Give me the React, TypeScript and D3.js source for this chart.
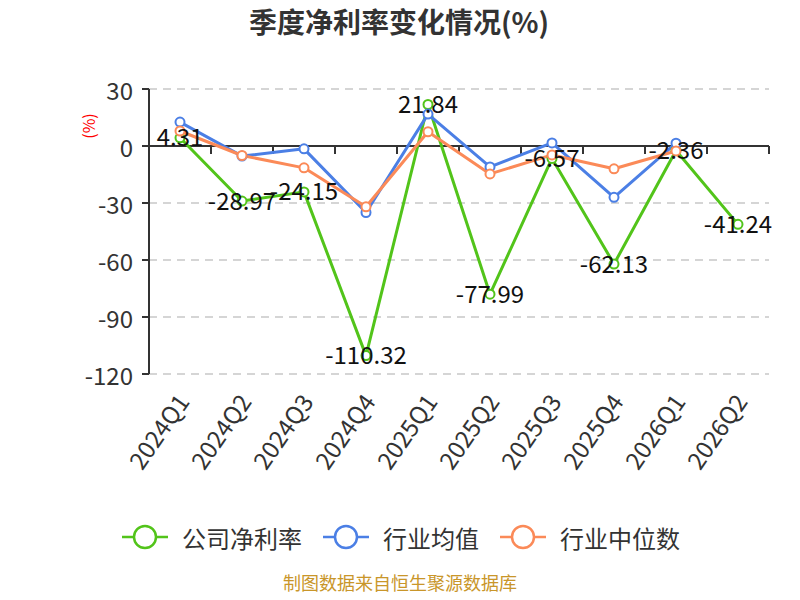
import * as d3 from 'd3'

const quarters = ['2024Q1', '2024Q2', '2024Q3', '2024Q4', '2025Q1', '2025Q2', '2025Q3', '2025Q4', '2026Q1', '2026Q2']
const companyRate = [4.31, -28.97, -24.15, -110.32, 21.84, -77.99, -6.57, -62.13, -2.36, -41.24]
const industryMean: (number | null)[] = [12.6, -5.3, -1.5, -35, 16.8, -11, 1.6, -27, 1.5, null]
const industryMedian: (number | null)[] = [7.9, -5, -11.5, -32, 7.5, -14.7, -4.7, -12, -2.6, null]
const yTicks = [30, 0, -30, -60, -90, -120]
const legendNames = ['公司净利率', '行业均值', '行业中位数']

const colours = ['#52c41a', '#4b7fe5', '#fb8a58']
const font = '"Noto Sans CJK SC", "Noto Sans", sans-serif'

const App = () => {
    const svgWidth = 800
    const svgHeight = 600
    const margin = { left: 149, right: 31, top: 89, bottom: 226 }
    const width = svgWidth - margin.left - margin.right
    const height = svgHeight - margin.top - margin.bottom

    const x = d3.scaleBand().domain(quarters).range([0, width])
    const y = d3.scaleLinear().domain([-120, 30]).range([height, 0])
    const cx = (q: string) => (x(q) as number) + x.bandwidth() / 2

    const line = d3
        .line<[string, number | null]>()
        .defined(d => d[1] !== null)
        .x(d => cx(d[0]))
        .y(d => y(d[1] as number))

    const series = [companyRate, industryMean, industryMedian]

    const legendX = [122, 323, 500]

    return (
        <svg width={svgWidth} height={svgHeight} style={{ position: 'absolute', left: 0, top: 0, fontFamily: font }}>
            <rect width={svgWidth} height={svgHeight} fill="#fff" />
            <text x={399} y={33} textAnchor="middle" fontSize={28} fontWeight="bold" fill="#333">
                季度净利率变化情况(%)
            </text>
            <text
                transform="translate(88,126) rotate(-90)"
                textAnchor="middle"
                dominantBaseline="central"
                fontSize={16}
                fill="#f00"
            >
                (%)
            </text>
            <g transform={`translate(${margin.left},${margin.top})`}>
                {yTicks.map(t => (
                    <g key={t}>
                        {t !== 0 && (
                            <line x1={0} x2={width} y1={y(t)} y2={y(t)} stroke="#c8c8c8" strokeWidth={1.5} strokeDasharray="8,6" />
                        )}
                        <line x1={-7} x2={0} y1={y(t)} y2={y(t)} stroke="#333" strokeWidth={2} />
                        <text x={-16} y={y(t)} textAnchor="end" dominantBaseline="central" fontSize={24} fill="#333">
                            {t}
                        </text>
                    </g>
                ))}
                <line x1={0} x2={0} y1={0} y2={height} stroke="#333" strokeWidth={2} />
                <line x1={0} x2={width} y1={y(0)} y2={y(0)} stroke="#333" strokeWidth={2} />
                {quarters.map(q => (
                    <line key={q} x1={(x(q) as number) + x.bandwidth()} x2={(x(q) as number) + x.bandwidth()} y1={y(0)} y2={y(0) + 8} stroke="#333" strokeWidth={2} />
                ))}
                {quarters.map(q => (
                    <text
                        key={q}
                        transform={`translate(${cx(q) + 2},${height + 22}) rotate(-55)`}
                        textAnchor="end"
                        dominantBaseline="central"
                        fontSize={24}
                        fill="#333"
                    >
                        {q}
                    </text>
                ))}
                {series.map((s, i) => (
                    <path
                        key={i}
                        d={line(quarters.map((q, j) => [q, s[j]] as [string, number | null])) ?? ''}
                        fill="none"
                        stroke={colours[i]}
                        strokeWidth={3}
                        strokeLinejoin="round"
                    />
                ))}
                {series.map((s, i) =>
                    quarters.map((q, j) =>
                        s[j] === null ? null : (
                            <circle key={`${i}-${q}`} cx={cx(q)} cy={y(s[j] as number)} r={4.5} fill="#fff" stroke={colours[i]} strokeWidth={2} />
                        )
                    )
                )}
                {companyRate.map((v, j) => (
                    <text
                        key={j}
                        x={cx(quarters[j])}
                        y={y(v) - 2}
                        textAnchor="middle"
                        dominantBaseline="central"
                        fontSize={24}
                        fill="#111"
                    >
                        {v}
                    </text>
                ))}
            </g>
            {legendNames.map((name, i) => (
                <g key={name} transform={`translate(${legendX[i]},537)`}>
                    <line x1={0} x2={46} y1={0} y2={0} stroke={colours[i]} strokeWidth={2.5} />
                    <circle cx={23} cy={0} r={11} fill="#fff" stroke={colours[i]} strokeWidth={2.5} />
                    <text x={60} y={0} dominantBaseline="central" fontSize={24} fill="#333">
                        {name}
                    </text>
                </g>
            ))}
            <text x={400} y={590} textAnchor="middle" fontSize={18} fill="#c9962a">
                制图数据来自恒生聚源数据库
            </text>
        </svg>
    )
}

export default App
